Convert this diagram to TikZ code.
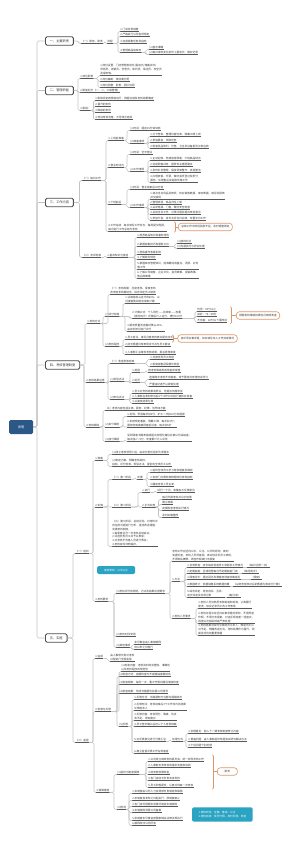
\documentclass[tikz,border=0pt]{standalone}
\usepackage{fontspec}
\setmainfont{Noto Sans CJK SC}
\usepackage{tikz}
\usetikzlibrary{calc,positioning}
\definecolor{azulraiz}{RGB}{44,88,136}
\definecolor{turquesa}{RGB}{43,163,195}
\definecolor{naranja}{RGB}{222,150,105}
\definecolor{gris}{RGB}{195,195,195}
\definecolor{texto}{RGB}{55,55,55}
\newcommand{\fsn}{\fontsize{7.6}{11}\selectfont}
\newcommand{\fsb}{\fontsize{9}{11}\selectfont}
\tikzset{
  raiz/.style={fill=azulraiz,text=white,rounded corners=1.5mm,minimum width=24mm,minimum height=14mm,anchor=west,font=\fsb},
  seccion/.style={draw=black!70,line width=2.5pt,fill=white,rounded corners=1.5mm,minimum height=8.5mm,inner xsep=4.5mm,anchor=west,font=\fsb,text=texto},
  subraya/.style={draw=black!65,line width=1.6pt},
  tema/.style={anchor=south west,inner xsep=0.3mm,inner ysep=0.6mm,align=left,font=\fsn,text=texto,
    append after command={(\tikzlastnode.south west) edge[subraya] (\tikzlastnode.south east)}},
  rama/.style={draw=gris,line width=1.8pt,rounded corners=1.5mm},
  resumen/.style={draw=naranja,line width=1.8pt,rounded corners=3mm,fill=white,minimum height=7.5mm,inner xsep=3mm,anchor=west,font=\fsn,text=texto},
  llave/.style={draw=naranja,line width=1.8pt,rounded corners=1mm},
  nota/.style={fill=turquesa,text=white,rounded corners=1.5mm,anchor=west,align=left,font=\fsn,inner xsep=5mm,inner ysep=2mm}
}
\newcommand{\conecta}[3][2]{\draw[rama] (#2) -| ([xshift=-#1mm]#3) -- (#3);}

\begin{document}
\begin{tikzpicture}[x=1mm,y=-1mm]
\useasboundingbox (0,0) rectangle (300,843);
% raiz y secciones
\node[raiz] (r) at (9,427) {说明};
\node[seccion] (s1) at (45,41) {一、主要职责};
\node[seccion] (s2) at (45,90.5) {二、管理职能};
\node[seccion] (s3) at (45,202.5) {三、工作内容};
\node[seccion] (s4) at (45,365) {四、考核管理制度};
\node[seccion] (s5) at (45,638) {五、实施};
\foreach \s in {s1,s2,s3,s4,s5} {\conecta[8]{r.east}{\s.west}}

% uno
\node[tema] (a1) at (81,43.5) {（一）职务、职责};
\node[tema] (a1p) at (107,43.5) {流程};
\node[tema] (a1a) at (120,31.5) {1.门店日常销售};
\node[tema] (a1b) at (120,36.5) {2.严格执行公司各项规定};
\node[tema] (a1c) at (120,43.5) {3.完成销售任务及指标};
\node[tema] (a1d) at (120,52.5) {4.管理商品和库存};
\node[tema] (a1d1) at (149,49.5) {(1)盘点准确};
\node[tema] (a1d2) at (149,54.5) {(2)每日库存变化及时上报店长，做好记录};
\conecta[2.5]{s1.east}{a1.south west}
\conecta{a1.south east}{a1p.south west}
\foreach \n in {a1a,a1b,a1c,a1d} {\conecta{a1p.south east}{\n.south west}}
\foreach \n in {a1d1,a1d2} {\conecta[3]{a1d.south east}{\n.south west}}

% dos
\node[tema] (b1) at (80,78.5) {1.岗位职责};
\node[tema] (b1a) at (100,75.5) {1.岗位设置：门店管理部店长/副店长/储备店长/\\导购员、收银员、仓管员、陈列员、保洁员、安全员\\及保安等。};
\node[tema] (b1b) at (100,81.5) {2.岗位编制：按店面分配};
\node[tema] (b1c) at (100,87.5) {3.岗位调整：职责、团队协调};
\node[tema] (b2) at (80,92.5) {2.职能划分（一、二、三级管理）};
\node[tema] (b3) at (80,110.5) {3.职级：};
\node[tema] (b3a) at (95,100.5) {1.职级评定按季度进行，根据业绩及考核结果确定};
\node[tema] (b3b) at (95,106.5) {2.晋升的条件};
\node[tema] (b3c) at (95,112.5) {3.降级的条件};
\node[tema] (b3d) at (95,119.5) {4.培训考核合格，方可转正定级};
\foreach \n in {b1,b2,b3} {\conecta{s2.east}{\n.south west}}
\foreach \n in {b1a,b1b,b1c} {\conecta{b1.south east}{\n.south west}}
\foreach \n in {b3a,b3b,b3c,b3d} {\conecta[1.5]{b3.south east}{\n.south west}}

% tres
\node[tema] (c1) at (82,180.5) {（一）每日工作};
\node[tema] (c1a) at (108,140.5) {1.上班前准备};
\node[tema] (c1a1) at (130,130.5) {(1)时间：提前15分钟到岗};
\node[tema] (c1a2) at (130,143.5) {(2)准备事项};
\node[tema] (c1a2a) at (150,136.5) {1.打卡签到，整理仪容仪表，佩戴工牌上岗};
\node[tema] (c1a2b) at (150,142.5) {2.参加晨会，领取任务};
\node[tema] (c1a2c) at (150,148.5) {3.检查货品陈列、价签、卫生及设备是否正常运转};
\node[tema] (c1b) at (108,167.5) {2.营业时间内};
\node[tema] (c1b1) at (130,154.5) {(1)时间：全天营业};
\node[tema] (c1b2) at (130,171.5) {(2)工作事项};
\node[tema] (c1b2a) at (150,160.5) {1.主动迎宾，热情接待顾客，介绍商品特点};
\node[tema] (c1b2b) at (150,166.5) {2.协助顾客试穿，提供专业搭配建议};
\node[tema] (c1b2c) at (150,172.5) {3.及时补货整理，保持货架整齐、卖场整洁};
\node[tema] (c1b2d) at (150,182.5) {4.办理收银、开票，做好会员登记及积分\\服务，处理售后及退换货等工作};
\node[tema] (c1c) at (108,204.5) {3.下班前后};
\node[tema] (c1c1) at (130,189.5) {(1)时间：营业结束后30分钟};
\node[tema] (c1c2) at (130,207.5) {(2)工作事项};
\node[tema] (c1c2a) at (150,199) {1.清点当日货品及款项，核对销售数据、库存数据，填写日报表\\并交接班};
\node[tema] (c1c2b) at (150,204) {2.整理卖场，商品归位上架};
\node[tema] (c1c2c) at (150,209) {3.关闭电源、门窗，做好安全检查};
\node[tema] (c1c2d) at (150,214.5) {4.总结当日工作，记录问题并提出改进意见};
\node[tema] (c1c2e) at (150,220) {5.参加夕会，店长点评当日业绩，布置次日工作};
\node[tema] (c1d) at (108,231.5) {4.工作总结：每日填写工作日志，每周提交周报，\\每月进行工作总结与考核};
\coordinate (l1a) at (174,222);
\coordinate (l1b) at (174,232);
\coordinate (l1m) at (175.5,227);
\node[resumen] (n1) at (178,227) {总结工作中的经验和不足，及时调整改进};
\draw[llave] (l1a) -- ++(1.5,0) |- (l1b);
\draw[llave] (l1m) -- (n1.west);
\node[tema] (c2) at (82,257.5) {（二）考评标准};
\node[tema] (c2a) at (107,257.5) {1.基本知识与技能};
\node[tema] (c2a1) at (137,237.5) {1.熟悉商品知识和面料特性};
\node[tema] (c2a2) at (137,246.5) {2.掌握销售技巧和服务礼仪};
\node[tema] (c2a2a) at (177,243.5) {(1)接待礼仪};
\node[tema] (c2a2b) at (177,248.5) {(2)沟通技巧与异议处理};
\node[tema] (c2a3) at (137,254.5) {3.熟练操作收银系统};
\node[tema] (c2a4) at (137,259.5) {4.了解陈列规范};
\node[tema] (c2a5) at (137,269.5) {5.掌握库存管理知识，能准确完成盘点、调货、补货\\等工作};
\node[tema] (c2a6) at (137,278.5) {6.了解公司制度、企业文化、会员政策、促销政策、\\售后政策等};
\foreach \n in {c1,c2} {\conecta[2.5]{s3.east}{\n.south west}}
\foreach \n in {c1a,c1b,c1c,c1d} {\conecta{c1.south east}{\n.south west}}
\foreach \n in {c1a1,c1a2} {\conecta[3]{c1a.south east}{\n.south west}}
\foreach \n in {c1a2a,c1a2b,c1a2c} {\conecta{c1a2.south east}{\n.south west}}
\foreach \n in {c1b1,c1b2} {\conecta[3]{c1b.south east}{\n.south west}}
\foreach \n in {c1b2a,c1b2b,c1b2c,c1b2d} {\conecta{c1b2.south east}{\n.south west}}
\foreach \n in {c1c1,c1c2} {\conecta[3]{c1c.south east}{\n.south west}}
\foreach \n in {c1c2a,c1c2b,c1c2c,c1c2d,c1c2e} {\conecta{c1c2.south east}{\n.south west}}
\conecta{c2.south east}{c2a.south west}
\foreach \n in {c2a1,c2a2,c2a3,c2a4,c2a5,c2a6} {\conecta{c2a.south east}{\n.south west}}
\foreach \n in {c2a2a,c2a2b} {\conecta{c2a2.south east}{\n.south west}}

% cuatro
\node[tema] (d1) at (87,323.5) {1.考核方式};
\node[tema] (d1a) at (110,294.5) {（一）考核周期：月度考核、季度考核\\及年度考核相结合，综合评定员工绩效};
\node[tema] (d1b) at (105,316.5) {(1)评分标准};
\node[tema] (d1b1) at (125,303.5) {1.业绩指标占总分的60\%，以\\月度销售目标完成率计算};
\node[tema] (d1b2) at (132,318.5) {2.计算公式：个人得分——完成率——权重\\（按月统计）折算后计入总分，满分100分};
\node[tema] (d1b2a) at (197,311.5) {优秀：90分以上};
\node[tema] (d1b2b) at (197,316.5) {良好：75～89分};
\node[tema] (d1b2c) at (197,322.5) {不合格：60分以下需改进};
\coordinate (l2a) at (230,307);
\coordinate (l2b) at (230,323.5);
\coordinate (l2m) at (231.5,315.5);
\node[resumen] (n2) at (236,315.5) {根据考核等级核算当月绩效奖金};
\draw[llave] (l2a) -- ++(1.5,0) |- (l2b);
\draw[llave] (l2m) -- (n2.west);
\node[tema] (d1b3) at (127,331.5) {3.服务质量及出勤纪律占40\%，\\由店长按月进行评分};
\node[tema] (d1c) at (105,346.5) {(2)考核程序};
\node[tema] (d1c1) at (125,339.5) {1.员工自评，填写月度考核表并提交店长};
\coordinate (l3a) at (172,335);
\coordinate (l3b) at (172,342);
\coordinate (l3m) at (173.5,338.5);
\node[resumen] (n3) at (177.5,338.5) {自评须实事求是，如实填写本人工作完成情况};
\draw[llave] (l3a) -- ++(1.5,0) |- (l3b);
\draw[llave] (l3m) -- (n3.west);
\node[tema] (d1c2) at (125,346.5) {2.店长根据日常表现评分并与员工面谈};
\node[tema] (d1c3) at (125,354.5) {3.人事部汇总审核考核结果，报总经理审批};
\node[tema] (d2) at (86,382.5) {2.考核结果运用};
\node[tema] (d2a) at (110,363.5) {（一）奖金发放标准};
\node[tema] (d2a1) at (150,359.5) {1.月度优秀员工奖励};
\node[tema] (d2a2) at (150,366.5) {2.季度销售冠军额外奖励};
\node[tema] (d2b) at (110,381.5) {(1)奖惩办法};
\node[tema] (d2b1) at (132,372.5) {1.奖励};
\node[tema] (d2b1a) at (148,372.5) {按考核等级发放奖金和荣誉};
\node[tema] (d2b2) at (132,382.5) {2.处罚};
\node[tema] (d2b2a) at (149,379.5) {连续两次考核不合格者，给予警告并安排培训学习};
\node[tema] (d2b2b) at (149,386.5) {严重违纪者予以辞退处理};
\node[tema] (d2c) at (110,399.5) {(2)申诉办法};
\node[tema] (d2c1) at (132,393.5) {1.员工对考核结果有异议，可提出书面申诉};
\node[tema] (d2c2) at (132,398.5) {2.人事部在收到申诉后5个工作日内进行复核并答复};
\node[tema] (d2c3) at (132,403.5) {3.以复核结果为准};
\node[tema] (d3) at (86,427) {3.考核细则};
\node[tema] (d3a) at (105,410.5) {（1）考核内容包括业绩、服务、纪律、协作四方面};
\node[tema] (d3b) at (105,427) {(2)扣分细则};
\node[tema] (d3b1) at (127,416.5) {1.迟到、早退每次扣2分，旷工一天扣10分并通报};
\node[tema] (d3b2) at (127,427) {2.未按规定着装、佩戴工牌，每次扣1分；\\服务态度差被顾客投诉者，每次扣5分};
\node[tema] (d3c) at (105,441.5) {(3)加分细则};
\node[tema] (d3c1) at (127,441.5) {受到顾客书面表扬或提出合理化建议并被公司采纳者，\\每次加2～5分，年度累计计入评优};
\foreach \n in {d1,d2,d3} {\conecta{s4.east}{\n.south west}}
\foreach \n in {d1a,d1b,d1c} {\conecta{d1.south east}{\n.south west}}
\foreach \n in {d1b1,d1b2,d1b3} {\conecta{d1b.south east}{\n.south west}}
\foreach \n in {d1b2a,d1b2b,d1b2c} {\conecta{d1b2.south east}{\n.south west}}
\foreach \n in {d1c1,d1c2,d1c3} {\conecta{d1c.south east}{\n.south west}}
\foreach \n in {d2a,d2b,d2c} {\conecta{d2.south east}{\n.south west}}
\foreach \n in {d2a1,d2a2} {\conecta[3]{d2a.south east}{\n.south west}}
\foreach \n in {d2b1,d2b2} {\conecta{d2b.south east}{\n.south west}}
\conecta{d2b1.south east}{d2b1a.south west}
\foreach \n in {d2b2a,d2b2b} {\conecta[3]{d2b2.south east}{\n.south west}}
\foreach \n in {d2c1,d2c2,d2c3} {\conecta{d2c.south east}{\n.south west}}
\foreach \n in {d3a,d3b,d3c} {\conecta{d3.south east}{\n.south west}}
\foreach \n in {d3b1,d3b2} {\conecta[4]{d3b.south east}{\n.south west}}
\conecta{d3c.south east}{d3c1.south west}

% cinco
\node[tema] (e1) at (75,553.5) {（一）组织};
\node[tema] (e1a) at (95,460.5) {1.准备};
\node[tema] (e1a1) at (112,454.5) {(1)成立考核领导小组，由店长担任组长负责落实};
\node[tema] (e1a2) at (112,466.5) {(2)制定方案：明确考核目标、\\指标、评分标准、奖惩办法，提前向全体员工公布};
\node[tema] (e1b) at (95,507) {2.实施};
\node[tema] (e1b1) at (112,479.5) {（一）第一阶段};
\node[tema] (e1b1p) at (137,479.5) {步骤};
\node[tema] (e1b1a) at (150,472.5) {1.组织全体员工学习考核制度及细则};
\node[tema] (e1b1b) at (150,479.5) {2.各部门对照标准梳理岗位考核指标};
\node[tema] (e1b1c) at (150,486.5) {3.确定考核人员名单};
\node[tema] (e1b2) at (112,507) {（二）第二阶段};
\node[tema] (e1b2a) at (142,492.5) {1.试行};
\node[tema] (e1b2ax) at (157,492.5) {试行一个月，收集各方反馈意见};
\node[tema] (e1b2b) at (142,507) {2.正式实施};
\node[tema] (e1b2b1) at (162,499.5) {每月开展考核并公示结果};
\node[tema] (e1b2b2) at (162,504.5) {建立档案};
\node[tema] (e1b2b3) at (162,510.5) {定期检查考核执行情况};
\node[tema] (e1b2b4) at (162,517.5) {及时纠偏整改};
\node[tema] (e1b3) at (112,546.5) {（三）第三阶段：总结评估，对考核中\\存在的问题进行分析，提出改进措施，\\完善考核制度。\\1.每季度召开一次考核总结会议；\\2.评选优秀员工并予以表彰；\\3.对考核不合格人员进行帮扶；\\4.考核资料归档保存。};
\node[nota,minimum width=38mm,minimum height=8mm] (t1) at (97,570) {考核原则：公平公正};
\node[tema] (e1c) at (95,601.5) {3.考核要求};
\node[tema] (e1c1) at (116,593.5) {(1)考核评分的原则、方法及结果应用要求};
\node[tema] (e1c1a) at (172,561) {考核工作应坚持公平、公正、公开的原则，做到\\有据可查，考核人员须客观、真实地评价员工表现，\\不得徇私舞弊、弄虚作假或打击报复};
\node[tema] (e1c1b) at (172,581.5) {1.方法};
\node[tema] (m1) at (187,567.5) {1.日常检查：店长每日检查员工到岗及工作情况};
\node[tema] (m1x) at ([xshift=4mm]m1.south east) {（每日记录一次）};
\node[tema] (m2) at (187,573.5) {2.定期抽查：区域经理每月不定期抽查门店};
\node[tema] (m2x) at ([xshift=4mm]m2.south east) {（每月两次）};
\node[tema] (m3) at (187,579.5) {3.顾客评价：通过回访及满意度调查收集意见};
\node[tema] (m3x) at ([xshift=10mm]m3.south east) {（季度）};
\node[tema] (m4) at (187,586.5) {4.数据统计：依据销售系统数据核算};
\node[tema] (m4x) at ([xshift=3mm]m4.south east) {（以财务部核对后的数据为准进行计算）};
\node[tema] (m5) at (187,597.5) {5.综合评定：结合自评、互评、\\店长评定及日常记录};
\node[tema] (m5x) at ([xshift=2mm]m5.south east) {（每月末）};
\node[tema] (e1c1c) at (172,618.5) {2.考核人员要求};
\node[tema] (k1) at (198,608.5) {1.考核人员应熟悉考核制度和标准，认真履行\\职责，如实记录员工的工作表现};
\node[tema] (k2) at (198,623.5) {2.考核过程中应坚持实事求是的原则，不得弄虚\\作假，不得打击报复，对违反规定者一经查实，\\将按公司相关规定严肃处理};
\node[tema] (k3) at (198,635.5) {3.考核结果须及时反馈给员工本人，帮助员工认\\识不足、明确改进方向，考核结果作为晋升、调\\薪及评优的重要依据};
\node[tema] (e1c2) at (116,636.5) {(2)考核时间安排};
\node[tema] (e1c3) at (116,647.5) {(3)其他事项};
\node[tema] (e1c3a) at (134,644.5) {未尽事宜由人事部解释};
\node[tema] (e1c3b) at (134,649.5) {自公布之日施行};
\node[tema] (e2) at (75,742.5) {（二）监督};
\node[tema] (e2a) at (95,658.5) {1.监督};
\node[tema] (e2a1) at (110,661.5) {由人事部负责对考核\\过程进行全程监督};
\node[tema] (e2b) at (95,711.5) {2.检查与反馈};
\node[tema] (f1) at (121,671.5) {(1)检查内容：考核资料的完整性、准确性\\以及考核程序的规范性};
\node[tema] (f2) at (119,676.5) {(2)检查方式：定期检查与不定期抽查相结合};
\node[tema] (f3) at (119,684.5) {(3)检查频率：每月一次，重大节假日期间增加检查};
\node[tema] (f4) at (119,693.5) {(4)检查结果：形成书面报告并报公司领导};
\node[tema] (f5) at (119,726.5) {(5)反馈};
\node[tema] (g1) at (134,699.5) {1.反馈方式：书面通知与当面沟通相结合};
\node[tema] (g2) at (134,710.5) {2.反馈时间：考核结束后3个工作日内将结果\\反馈给本人};
\node[tema] (g3) at (134,720.5) {3.反馈内容：考核得分、等级、优点\\及不足、改进建议};
\node[tema] (g4) at (134,726.5) {4.员工签字确认后存入个人考核档案};
\node[tema] (g5) at (134,741.5) {5.对反馈意见进行分类汇总};
\node[tema] (g5p) at (172,741.5) {处理方式};
\node[tema] (g5a) at (188,733.5) {1.合理意见：纳入下一期考核制度修订内容};
\node[tema] (g5b) at (188,741.5) {2.普遍问题：由人事部组织专题会议研究解决办法};
\node[tema] (g5c) at (188,747.5) {3.个别问题个别处理};
\node[tema] (g6) at (134,753.5) {6.建立监督反馈工作台账备查};
\node[tema] (e2c) at (96,792.5) {3.保障措施};
\node[tema] (h1) at (117,774.5) {(1)组织与制度保障};
\node[tema] (h1a) at (148,761.5) {1.公司成立绩效考核委员会，统一领导考核工作};
\node[tema] (h1b) at (148,767.5) {2.人事部负责考核的组织实施和协调};
\node[tema] (h1c) at (148,774.5) {3.财务部核算奖金};
\node[tema] (h1d) at (148,780.5) {4.各门店店长负责本店考核};
\node[tema] (h1e) at (148,787.5) {5.员工积极配合，认真对待每一次考核};
\coordinate (l4a) at (212,755);
\coordinate (l4b) at (212,789);
\coordinate (l4m) at (213.5,771.5);
\node[resumen,minimum width=20mm] (n4) at (217,771.5) {职责};
\draw[llave] (l4a) -- ++(1.5,0) |- (l4b);
\draw[llave] (l4m) -- (n4.west);
\node[tema] (h2) at (117,809.5) {(2)附则};
\node[tema] (h2a) at (132,793.5) {1.本制度由公司人力资源部负责制定和解释};
\node[tema] (h2b) at (132,800.5) {2.本制度自发布之日起执行，原制度废止};
\node[tema] (h2c) at (132,806.5) {3.各门店可根据实际情况制定实施细则};
\node[tema] (h2d) at (132,812.5) {4.实施细则须报公司备案};
\node[tema] (h2e) at (132,820.5) {5.本制度未尽事宜按国家相关法律法规执行};
\node[tema] (h2f) at (132,825.5) {6.解释权归公司所有};
\node[nota,inner xsep=6.5mm,inner ysep=4mm] (t2) at (192,814.5) {1.考核到位：全面、客观、公正\\2.考核有效：奖罚分明、及时反馈、改进};
\foreach \n in {e1,e2} {\conecta{s5.east}{\n.south west}}
\foreach \n in {e1a,e1b,e1c} {\conecta{e1.south east}{\n.south west}}
\foreach \n in {e1a1,e1a2} {\conecta[4]{e1a.south east}{\n.south west}}
\foreach \n in {e1b1,e1b2,e1b3} {\conecta[4]{e1b.south east}{\n.south west}}
\conecta{e1b1.south east}{e1b1p.south west}
\foreach \n in {e1b1a,e1b1b,e1b1c} {\conecta[3]{e1b1p.south east}{\n.south west}}
\foreach \n in {e1b2a,e1b2b} {\conecta[4]{e1b2.south east}{\n.south west}}
\conecta{e1b2a.south east}{e1b2ax.south west}
\foreach \n in {e1b2b1,e1b2b2,e1b2b3,e1b2b4} {\conecta[3.5]{e1b2b.south east}{\n.south west}}
\foreach \n in {e1c1,e1c2,e1c3} {\conecta{e1c.south east}{\n.south west}}
\foreach \n in {e1c1a,e1c1b,e1c1c} {\conecta{e1c1.south east}{\n.south west}}
\foreach \n in {m1,m2,m3,m4,m5} {\conecta{e1c1b.south east}{\n.south west}}
\foreach \a/\b in {m1/m1x,m2/m2x,m3/m3x,m4/m4x,m5/m5x} {\draw[rama] (\a.south east) -- (\b.south west);}
\foreach \n in {k1,k2,k3} {\conecta{e1c1c.south east}{\n.south west}}
\foreach \n in {e1c3a,e1c3b} {\conecta{e1c3.south east}{\n.south west}}
\foreach \n in {e2a,e2b,e2c} {\conecta{e2.south east}{\n.south west}}
\conecta{e2a.south east}{e2a1.south west}
\foreach \n in {f1,f2,f3,f4,f5} {\conecta[2]{e2b.south east}{\n.south west}}
\foreach \n in {g1,g2,g3,g4,g5,g6} {\conecta{f5.south east}{\n.south west}}
\conecta{g5.south east}{g5p.south west}
\foreach \n in {g5a,g5b,g5c} {\conecta{g5p.south east}{\n.south west}}
\foreach \n in {h1,h2} {\conecta[3]{e2c.south east}{\n.south west}}
\foreach \n in {h1a,h1b,h1c,h1d,h1e} {\conecta{h1.south east}{\n.south west}}
\foreach \n in {h2a,h2b,h2c,h2d,h2e,h2f} {\conecta[3]{h2.south east}{\n.south west}}
\end{tikzpicture}
\end{document}
